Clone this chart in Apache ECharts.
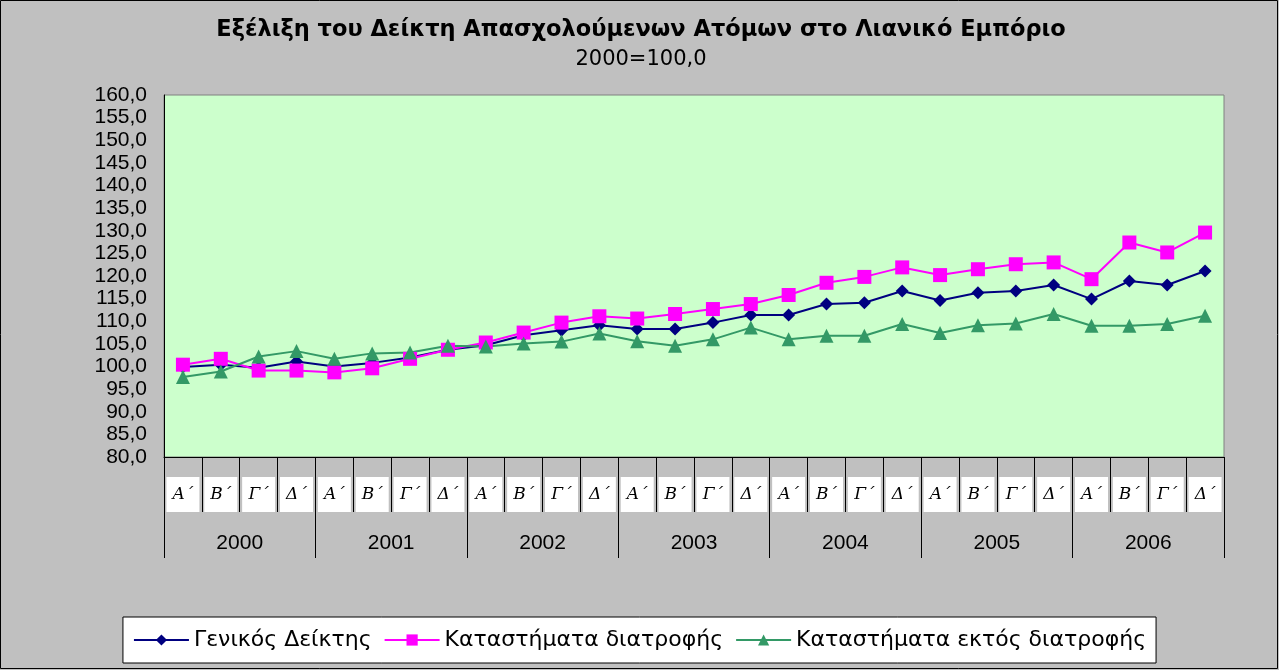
<!DOCTYPE html>
<html><head><meta charset="utf-8">
<script src="https://cdn.jsdelivr.net/npm/echarts@6/dist/echarts.min.js"></script>
<style>html,body{margin:0;padding:0;background:#c0c0c0}#c{width:1279px;height:670px}</style>
</head><body><div id="c"></div>
<script>
const quarters = ['Α΄','Β΄','Γ΄','Δ΄','Α΄','Β΄','Γ΄','Δ΄','Α΄','Β΄','Γ΄','Δ΄','Α΄','Β΄','Γ΄','Δ΄','Α΄','Β΄','Γ΄','Δ΄','Α΄','Β΄','Γ΄','Δ΄','Α΄','Β΄','Γ΄','Δ΄'];
const years = ['2000','2001','2002','2003','2004','2005','2006'];
const genikos = [99.9,100.4,99.7,101.1,100.0,100.8,102.0,103.7,104.7,106.9,108.0,109.1,108.3,108.3,109.7,111.4,111.4,113.8,114.1,116.7,114.6,116.3,116.7,118.0,114.9,118.9,118.0,121.1];
const diatrofis = [100.4,101.7,99.1,99.1,98.7,99.6,101.7,103.7,105.3,107.5,109.7,111.1,110.6,111.6,112.7,113.8,115.8,118.5,119.8,121.9,120.2,121.5,122.6,123.0,119.3,127.4,125.2,129.6];
const ektos = [97.7,98.9,102.2,103.4,101.7,102.9,103.1,104.6,104.4,105.1,105.5,107.3,105.6,104.6,106.0,108.6,106.0,106.8,106.8,109.4,107.4,109.1,109.5,111.6,109.0,109.0,109.4,111.2];
const seriesNames = ['Γενικός Δείκτης','Καταστήματα διατροφής','Καταστήματα εκτός διατροφής'];

const chart = echarts.init(document.getElementById('c'));
const fmt = v => v.toFixed(1).replace('.', ',');
chart.setOption({
  backgroundColor: '#c0c0c0',
  animation: false,
  graphic: [{type:'rect', shape:{x:0.5,y:0.5,width:1277,height:668}, style:{fill:'none', stroke:'#000', lineWidth:1}}],
  title: {
    text: 'Εξέλιξη του Δείκτη Απασχολούμενων Ατόμων στο Λιανικό Εμπόριο',
    subtext: '2000=100,0',
    left: 641, textAlign: 'center', top: 18, itemGap: 5, padding: 0,
    textStyle: {fontFamily: 'DejaVu Sans', fontSize: 22.5, lineHeight: 25, fontWeight: 'bold', color: '#000'},
    subtextStyle: {fontFamily: 'DejaVu Sans', fontSize: 21, lineHeight: 24, color: '#000'}
  },
  legend: {
    data: seriesNames,
    left: 'center', top: 617,
    backgroundColor: '#fff', borderColor: '#000', borderWidth: 1,
    padding: [10, 10, 10, 10], itemGap: 12, itemWidth: 55, itemHeight: 14,
    textStyle: {fontFamily: 'DejaVu Sans', fontSize: 22, lineHeight: 26, color: '#000'}
  },
  grid: {left: 164, right: 55, top: 95, bottom: 213, show: true, backgroundColor: '#CCFFCC', borderColor: '#808080', borderWidth: 1},
  xAxis: [{
    type: 'category', data: quarters, boundaryGap: true,
    axisLine: {lineStyle: {color: '#000', width: 1}},
    axisTick: {show: true, interval: 0, length: 55, lineStyle: {color: '#000'}},
    axisLabel: {interval: 0, margin: 20, fontFamily: 'DejaVu Serif', fontStyle: 'italic', fontSize: 17, color: '#000',
      backgroundColor: '#fff', width: 33, height: 35, lineHeight: 35, align: 'center', padding: [0,0,0,0]}
  }, {
    type: 'category', data: years, boundaryGap: true, position: 'bottom',
    axisLine: {show: false},
    axisTick: {show: true, interval: 0, length: 101, lineStyle: {color: '#000'}},
    axisLabel: {interval: 0, margin: 76, fontFamily: 'Arial, Liberation Sans', fontSize: 21, color: '#000'}
  }],
  yAxis: {
    type: 'value', min: 80, max: 160, interval: 5,
    axisLine: {show: true, lineStyle: {color: '#000'}},
    axisTick: {show: false},
    splitLine: {show: false},
    axisLabel: {formatter: fmt, margin: 17, fontFamily: 'Arial, Liberation Sans', fontSize: 21, color: '#000'}
  },
  series: [
    {name: seriesNames[0], type: 'line', data: genikos, symbol: 'diamond', symbolSize: 13,
     lineStyle: {color: '#000080', width: 2}, itemStyle: {color: '#000080'}},
    {name: seriesNames[1], type: 'line', data: diatrofis, symbol: 'rect', symbolSize: 14,
     lineStyle: {color: '#FF00FF', width: 2}, itemStyle: {color: '#FF00FF'}},
    {name: seriesNames[2], type: 'line', data: ektos, symbol: 'triangle', symbolSize: 14,
     lineStyle: {color: '#339966', width: 2}, itemStyle: {color: '#339966'}}
  ]
});
</script></body></html>
